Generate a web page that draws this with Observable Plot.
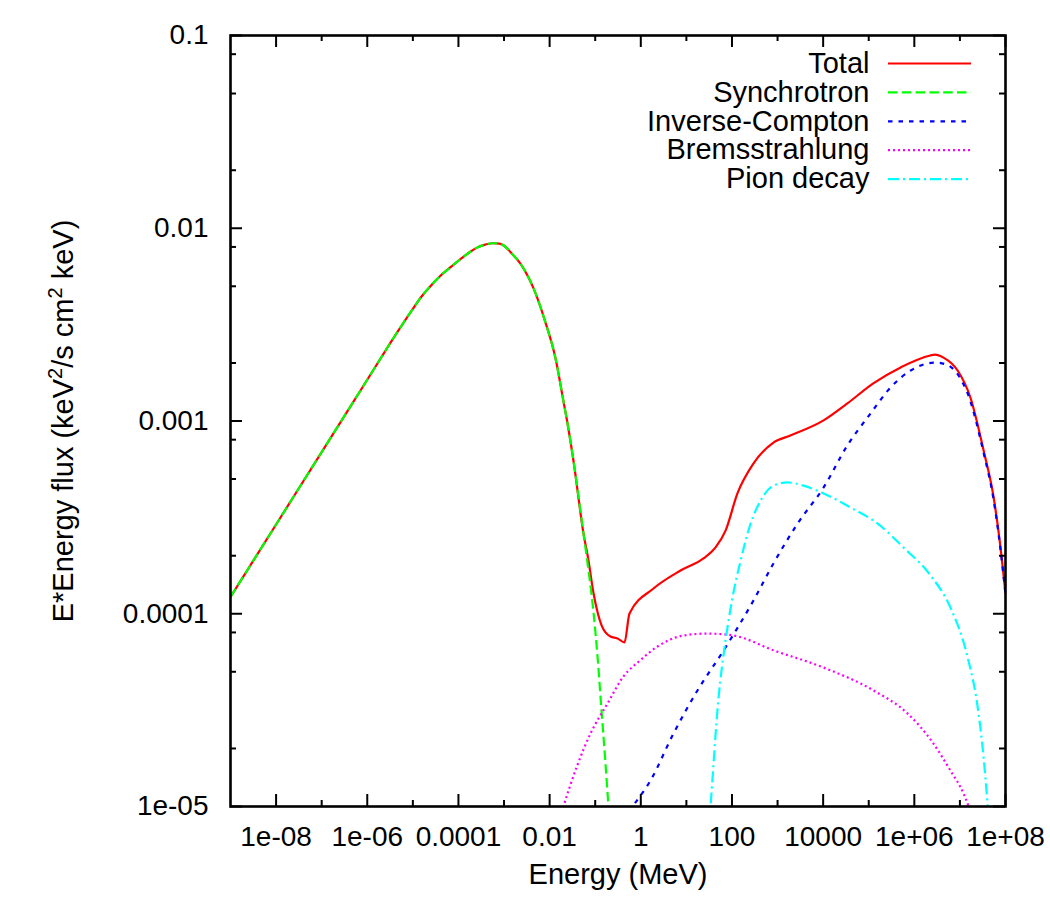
<!DOCTYPE html>
<html>
<head>
<meta charset="utf-8">
<script src="https://cdn.jsdelivr.net/npm/d3@7"></script>
<script src="https://cdn.jsdelivr.net/npm/@observablehq/plot@0.6"></script>
<style>
  html, body { margin: 0; padding: 0; background: #ffffff; }
  #chart svg { display: block; }
</style>
</head>
<body>
<div id="chart"></div>
<script>
// ---------------- data (Energy in MeV, E*Energy flux) ----------------
const totalE = [1e-9, 1e-8, 1e-7, 1e-6, 3.98e-6, 1e-5, 1.585e-5, 2.51e-5, 3.98e-5, 7.76e-5, 1.259e-4, 1.82e-4, 2.51e-4, 3.55e-4, 5.62e-4, 7.94e-4, 1.122e-3, 1.38e-3, 2.29e-3, 4.47e-3, 8.13e-3, 1.35e-2, 2.0e-2, 2.45e-2, 3.33e-2, 5.53e-2, 7.08e-2, 9.12e-2, 0.1148, 0.138, 0.168, 0.216, 0.308, 0.439, 0.565, 1.897, 7.43, 23.7, 43.7, 72.4, 131.8, 295, 813, 1905, 10233, 33884, 125893, 501187, 2.239e6, 2.818e6, 4.365e6, 8.91e6, 1.698e7, 3.31e7, 5.50e7, 7.76e7, 1e8];
const totalF = [1.223e-4, 2.904e-4, 6.90e-4, 1.637e-3, 2.75e-3, 3.82e-3, 4.45e-3, 5.05e-3, 5.65e-3, 6.46e-3, 7.08e-3, 7.55e-3, 7.91e-3, 8.17e-3, 8.36e-3, 8.32e-3, 7.94e-3, 7.53e-3, 6.56e-3, 4.86e-3, 3.24e-3, 2.11e-3, 1.276e-3, 9.82e-4, 6.24e-4, 2.61e-4, 1.905e-4, 1.288e-4, 1.0e-4, 8.71e-5, 8.0e-5, 7.62e-5, 7.45e-5, 7.10e-5, 1.002e-4, 1.352e-4, 1.675e-4, 1.936e-4, 2.21e-4, 2.70e-4, 4.21e-4, 6.01e-4, 7.73e-4, 8.41e-4, 1.007e-3, 1.233e-3, 1.567e-3, 1.897e-3, 2.188e-3, 2.21e-3, 2.133e-3, 1.828e-3, 1.324e-3, 7.03e-4, 4.01e-4, 2.21e-4, 1.27e-4];

const synE = [1e-9, 1e-8, 1e-7, 1e-6, 3.98e-6, 1e-5, 1.585e-5, 2.51e-5, 3.98e-5, 7.76e-5, 1.259e-4, 1.82e-4, 2.51e-4, 3.55e-4, 5.62e-4, 7.94e-4, 1.122e-3, 1.38e-3, 2.29e-3, 4.47e-3, 8.13e-3, 1.35e-2, 2.0e-2, 2.45e-2, 3.33e-2, 5.53e-2, 7.08e-2, 9.16e-2, 0.1122, 0.1374, 0.166, 0.1954, 0.2275];
const synF = [1.223e-4, 2.904e-4, 6.90e-4, 1.637e-3, 2.75e-3, 3.82e-3, 4.45e-3, 5.05e-3, 5.65e-3, 6.46e-3, 7.08e-3, 7.55e-3, 7.91e-3, 8.17e-3, 8.36e-3, 8.32e-3, 7.94e-3, 7.53e-3, 6.56e-3, 4.86e-3, 3.24e-3, 2.11e-3, 1.276e-3, 9.82e-4, 6.24e-4, 2.61e-4, 1.70e-4, 1.023e-4, 6.03e-5, 3.16e-5, 1.74e-5, 1.0e-5, 5.9e-6];

const icE = [0.398, 0.658, 1.633, 5.21, 17.5, 65.2, 296.5, 813, 2754, 10233, 33884, 109648, 301995, 831764, 2.884e6, 5.37e6, 1.202e7, 1.479e7, 3.31e7, 5.50e7, 7.76e7, 1e8];
const icF = [8.5e-6, 1e-5, 1.365e-5, 2.39e-5, 4.0e-5, 6.44e-5, 1.172e-4, 1.824e-4, 2.94e-4, 4.52e-4, 7.46e-4, 1.094e-3, 1.493e-3, 1.828e-3, 2.01e-3, 1.95e-3, 1.55e-3, 1.39e-3, 6.84e-4, 3.89e-4, 2.16e-4, 1.26e-4];

const bremE = [1.585e-2, 2.01e-2, 7.87e-2, 0.1858, 0.417, 0.984, 2.32, 8.63, 29.0, 107.9, 813, 10162, 127057, 707946, 2.63e6, 6.17e6, 1.202e7, 1.549e7, 1.778e7];
const bremF = [8.3e-6, 1e-5, 2.39e-5, 3.42e-5, 4.73e-5, 5.75e-5, 6.76e-5, 7.71e-5, 7.89e-5, 7.71e-5, 6.46e-5, 5.26e-5, 4.0e-5, 3.04e-5, 2.12e-5, 1.538e-5, 1.167e-5, 1e-5, 8.9e-6];

const pionE = [31.6, 33.8, 50.1, 72.4, 100, 154.9, 257, 426.6, 813, 1660, 3715, 10233, 39811, 154882, 575440, 2.239e6, 6.17e6, 1.479e7, 2.455e7, 3.31e7, 4.07e7, 4.37e7];
const pionF = [8.1e-6, 1e-5, 3.55e-5, 7.26e-5, 1.172e-4, 1.888e-4, 2.94e-4, 3.87e-4, 4.62e-4, 4.80e-4, 4.62e-4, 4.21e-4, 3.56e-4, 2.94e-4, 2.21e-4, 1.585e-4, 1.079e-4, 5.93e-5, 3.27e-5, 1.795e-5, 1e-5, 7.9e-6];

const seriesNames = ["Total", "Synchrotron", "Inverse-Compton", "Bremsstrahlung", "Pion decay"];
const seriesColors = ["#ff0000", "#00ff00", "#0000ff", "#ff00ff", "#00ffff"];
const seriesDashes = [null, "9.5,4.3", "4.5,6", "2,3", "11,4,2,4"];

const xDomain = [1e-9, 1e8];
const yDomain = [1e-5, 0.1];
const xMajor = [1e-8, 1e-6, 1e-4, 1e-2, 1, 100, 1e4, 1e6, 1e8];
const xLabels = ["1e-08", "1e-06", "0.0001", "0.01", "1", "100", "10000", "1e+06", "1e+08"];
const xMinor = [1e-7, 1e-5, 1e-3, 0.1, 10, 1000, 1e5, 1e7];
const yMajor = [1e-5, 1e-4, 1e-3, 1e-2, 0.1];
const yLabels = ["1e-05", "0.0001", "0.001", "0.01", "0.1"];
const yMinor = [2e-5, 5e-5, 8e-5, 2e-4, 5e-4, 8e-4, 2e-3, 5e-3, 8e-3, 2e-2, 5e-2, 8e-2];

const xTitle = "Energy (MeV)";
const yTitle = "E*Energy flux (keV2/s cm2 keV)";

// ---------------- layout ----------------
const W = 1050, H = 900;
const mt = 35, mr = 45, mb = 94, ml = 230;
const FW = W - ml - mr, FH = H - mt - mb;
const FS = 28;     // tick labels
const FS2 = 29;    // titles & legend

const seriesData = [
  [totalE, totalF], [synE, synF], [icE, icF], [bremE, bremF], [pionE, pionF]
];
const rows = (E, F) => E.map((e, i) => ({E: e, F: F[i]}));

const marks = [];
seriesData.forEach(([E, F], k) => {
  marks.push(Plot.line(rows(E, F), {
    x: "E", y: "F",
    stroke: seriesColors[k],
    strokeWidth: 2.2,
    strokeDasharray: seriesDashes[k] || undefined,
    strokeLinecap: "butt",
    curve: "monotone-x",
    clip: true
  }));
});

// ticks (inward, mirrored)
const tk = {strokeWidth: 2, stroke: "black"};
marks.push(
  Plot.ruleX(xMajor, {x: d => d, insetTop: FH - 12, ...tk}),
  Plot.ruleX(xMajor, {x: d => d, insetBottom: FH - 12, ...tk}),
  Plot.ruleX(xMinor, {x: d => d, insetTop: FH - 6, ...tk}),
  Plot.ruleX(xMinor, {x: d => d, insetBottom: FH - 6, ...tk}),
  Plot.ruleY(yMajor, {y: d => d, insetRight: FW - 12, ...tk}),
  Plot.ruleY(yMajor, {y: d => d, insetLeft: FW - 12, ...tk}),
  Plot.ruleY(yMinor, {y: d => d, insetRight: FW - 6, ...tk}),
  Plot.ruleY(yMinor, {y: d => d, insetLeft: FW - 6, ...tk}),
  Plot.frame({stroke: "black", strokeWidth: 2.6})
);

// tick labels
marks.push(
  Plot.text(xMajor, {x: d => d, text: (d, i) => xLabels[i], frameAnchor: "bottom", dy: 20, textAnchor: "middle", lineAnchor: "top", fontSize: FS}),
  Plot.text(yMajor, {y: d => d, text: (d, i) => yLabels[i], frameAnchor: "left", dx: -22, textAnchor: "end", lineAnchor: "middle", fontSize: FS})
);

// axis titles
marks.push(
  Plot.text([xTitle], {text: d => d, frameAnchor: "bottom", dy: 68, textAnchor: "middle", lineAnchor: "middle", fontSize: FS2}),
  Plot.text([yTitle], {text: d => d, frameAnchor: "left", dx: -167, rotate: -90, textAnchor: "middle", lineAnchor: "middle", fontSize: FS2})
);

// legend (inside the frame, top right)
seriesNames.forEach((name, i) => {
  const dy = 28 + i * 28.9;
  marks.push(
    Plot.text([name], {text: d => d, frameAnchor: "top-right", dx: -136, dy, textAnchor: "end", lineAnchor: "middle", fontSize: FS2}),
    Plot.ruleY([yDomain[1]], {y: d => d, dy, insetLeft: 658, insetRight: 34,
      stroke: seriesColors[i], strokeWidth: 2.2, strokeDasharray: seriesDashes[i] || undefined, strokeLinecap: "butt"})
  );
});

const svg = Plot.plot({
  width: W, height: H,
  marginTop: mt, marginRight: mr, marginBottom: mb, marginLeft: ml,
  style: {fontFamily: "'Liberation Sans', Arial, Helvetica, sans-serif", fontSize: FS + "px", background: "#ffffff", color: "black"},
  x: {type: "log", domain: xDomain, axis: null},
  y: {type: "log", domain: yDomain, axis: null},
  marks
});
document.getElementById("chart").appendChild(svg);

// superscripts in the y title
d3.select(svg).selectAll("text")
  .filter(function () { return this.textContent === yTitle; })
  .each(function () {
    const t = d3.select(this);
    t.text(null);
    const parts = [["E*Energy flux (keV", 0, null], ["2", -11, 20], ["/s cm", 11, null], ["2", -11, 20], [" keV)", 11, null]];
    parts.forEach(([s, dy, fs]) => {
      const ts = t.append("tspan").text(s);
      if (dy) ts.attr("dy", dy);
      if (fs) ts.attr("font-size", fs);
    });
  });
</script>
</body>
</html>
